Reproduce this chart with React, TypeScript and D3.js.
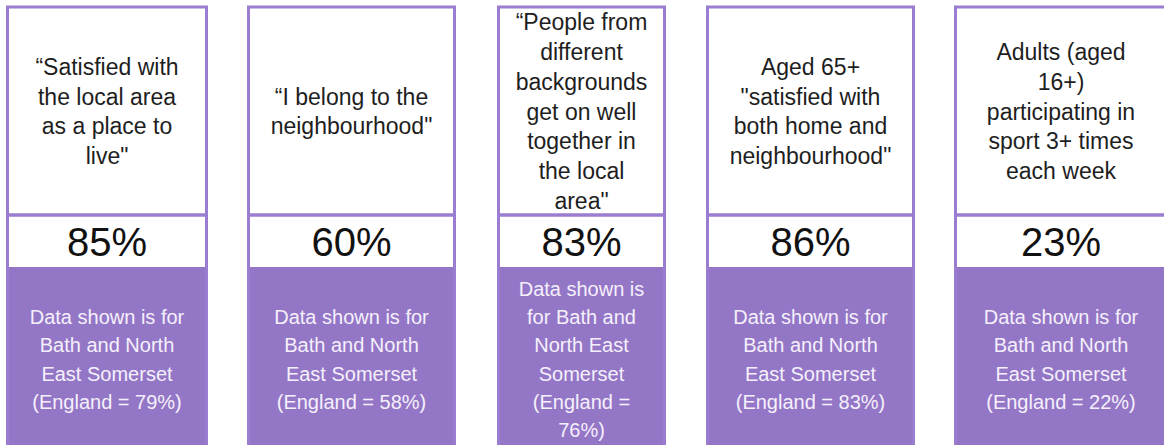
import React, { useEffect, useRef } from "react";
import * as d3 from "d3";

// ---- data ----
const questionLines: string[][] = [
  ["\u201CSatisfied with", "the local area", "as a place to", "live\""],
  ["\u201CI belong to the", "neighbourhood\""],
  ["\u201CPeople from", "different", "backgrounds", "get on well", "together in", "the local", "area\""],
  ["Aged 65+", "\"satisfied with", "both home and", "neighbourhood\""],
  ["Adults (aged", "16+)", "participating in", "sport 3+ times", "each week"],
];
const values: number[] = [85, 60, 83, 86, 23];
const englandValues: number[] = [79, 58, 76, 83, 22];
const noteLines: string[][] = [
  ["Data shown is for", "Bath and North", "East Somerset", `(England = ${englandValues[0]}%)`],
  ["Data shown is for", "Bath and North", "East Somerset", `(England = ${englandValues[1]}%)`],
  ["Data shown is", "for Bath and", "North East", "Somerset", "(England =", `${englandValues[2]}%)`],
  ["Data shown is for", "Bath and North", "East Somerset", `(England = ${englandValues[3]}%)`],
  ["Data shown is for", "Bath and North", "East Somerset", `(England = ${englandValues[4]}%)`],
];

// ---- layout ----
const W = 1164;
const H = 445;
const panelEdges: [number, number][] = [
  [7.5, 206.5],
  [248.5, 454.5],
  [498.5, 664.5],
  [707.5, 913.5],
  [955.5, 1166.5],
];
const TOP = 7;
const DIVIDER = 215;
const PURPLE_TOP = 267;
const BOTTOM = 452;
const BORDER = "#9a7dd0";
const FILL = "#9476c6";
const FONT = "'Liberation Sans', Arial, Helvetica, sans-serif";

export default function App() {
  const ref = useRef<SVGSVGElement | null>(null);

  useEffect(() => {
    const svg = d3.select(ref.current);
    svg.selectAll("*").remove();

    const idx = d3.range(values.length);
    const xLeft = d3.scaleOrdinal<number, number>().domain(idx).range(panelEdges.map((e) => e[0]));
    const xRight = d3.scaleOrdinal<number, number>().domain(idx).range(panelEdges.map((e) => e[1]));
    const cx = (i: number) => (xLeft(i) + xRight(i)) / 2;

    const qCenter = (TOP + DIVIDER) / 2 + 0.5;
    const vCenter = (DIVIDER + PURPLE_TOP) / 2;
    const nCenter = (PURPLE_TOP + BOTTOM) / 2;
    const qLH = 29.8;
    const nLH = 28.2;

    const g = svg
      .selectAll("g.panel")
      .data(idx)
      .join("g")
      .attr("class", "panel");

    g.append("rect")
      .attr("x", (i) => xLeft(i))
      .attr("y", TOP)
      .attr("width", (i) => xRight(i) - xLeft(i))
      .attr("height", BOTTOM - TOP)
      .attr("fill", "#ffffff");

    g.append("rect")
      .attr("x", (i) => xLeft(i) - 1.5)
      .attr("y", PURPLE_TOP)
      .attr("width", (i) => xRight(i) - xLeft(i) + 3)
      .attr("height", BOTTOM - PURPLE_TOP)
      .attr("fill", FILL);

    // borders
    g.append("path")
      .attr("d", (i) => `M${xLeft(i)},${BOTTOM}V${TOP}H${xRight(i)}V${BOTTOM}`)
      .attr("fill", "none")
      .attr("stroke", BORDER)
      .attr("stroke-width", 3);
    g.append("line")
      .attr("x1", (i) => xLeft(i))
      .attr("x2", (i) => xRight(i))
      .attr("y1", DIVIDER)
      .attr("y2", DIVIDER)
      .attr("stroke", BORDER)
      .attr("stroke-width", 3.5);

    // question text
    g.each(function (i) {
      const sel = d3.select(this);
      const ql = questionLines[i];
      const q0 = qCenter - ((ql.length - 1) * qLH) / 2;
      sel
        .append("text")
        .attr("text-anchor", "middle")
        .attr("font-family", FONT)
        .attr("font-size", 23)
        .attr("fill", "#1e1e1e")
        .selectAll("tspan")
        .data(ql)
        .join("tspan")
        .attr("x", cx(i))
        .attr("y", (_, k) => q0 + k * qLH)
        .attr("dy", "0.35em")
        .text((d) => d);

      sel
        .append("text")
        .attr("text-anchor", "middle")
        .attr("font-family", FONT)
        .attr("font-size", 40)
        .attr("fill", "#111111")
        .attr("x", cx(i))
        .attr("y", vCenter + 1)
        .attr("dy", "0.35em")
        .text(`${values[i]}%`);

      const nl = noteLines[i];
      const n0 = nCenter - ((nl.length - 1) * nLH) / 2;
      sel
        .append("text")
        .attr("text-anchor", "middle")
        .attr("font-family", FONT)
        .attr("font-size", 20)
        .attr("fill", "#f4f0fb")
        .selectAll("tspan")
        .data(nl)
        .join("tspan")
        .attr("x", cx(i))
        .attr("y", (_, k) => n0 + k * nLH)
        .attr("dy", "0.35em")
        .text((d) => d);
    });
  }, []);

  return (
    <div style={{ position: "absolute", left: 0, top: 0, width: W, height: H, overflow: "hidden", background: "#fff" }}>
      <svg ref={ref} width={W} height={H} style={{ display: "block" }} />
    </div>
  );
}
